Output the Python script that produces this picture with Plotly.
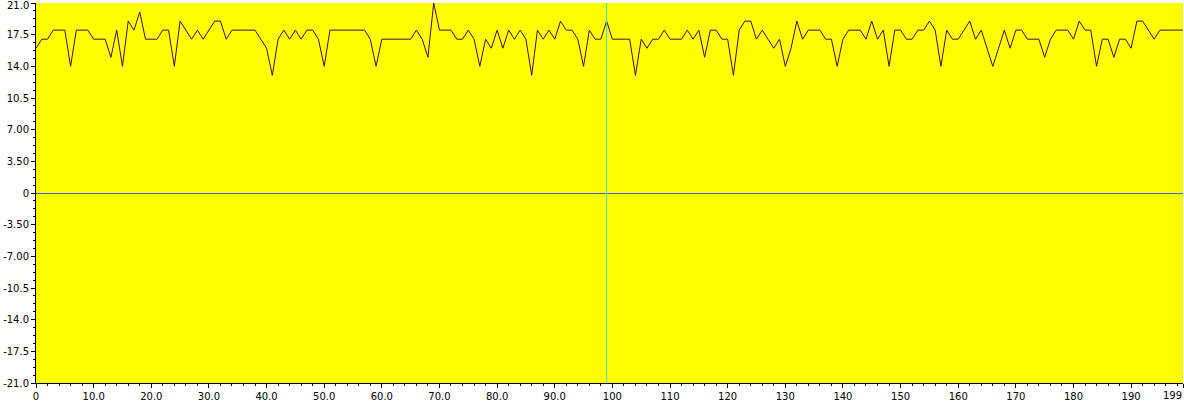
import plotly.graph_objects as go

# ---- data ----
sample_index = list(range(200))
signal_values = [
    16, 17, 17, 18, 18, 18, 14, 18, 18, 18,
    17, 17, 17, 15, 18, 14, 19, 18, 20, 17,
    17, 17, 18, 18, 14, 19, 18, 17, 18, 17,
    18, 19, 19, 17, 18, 18, 18, 18, 18, 17,
    16, 13, 17, 18, 17, 18, 17, 18, 18, 17,
    14, 18, 18, 18, 18, 18, 18, 18, 17, 14,
    17, 17, 17, 17, 17, 17, 18, 17, 15, 21,
    18, 18, 18, 17, 17, 18, 17, 14, 17, 16,
    18, 16, 18, 17, 18, 17, 13, 18, 17, 18,
    17, 19, 18, 18, 17, 14, 18, 17, 17, 19,
    17, 17, 17, 17, 13, 17, 16, 17, 17, 18,
    17, 17, 17, 18, 17, 18, 15, 18, 18, 17,
    17, 13, 18, 19, 19, 17, 18, 17, 16, 17,
    14, 16, 19, 17, 18, 18, 18, 17, 17, 14,
    17, 18, 18, 18, 17, 19, 17, 18, 14, 18,
    18, 17, 17, 18, 18, 19, 18, 14, 18, 17,
    17, 18, 19, 17, 18, 16, 14, 16, 18, 16,
    18, 18, 17, 17, 17, 15, 17, 18, 18, 18,
    17, 19, 18, 18, 14, 17, 17, 15, 17, 17,
    16, 19, 19, 18, 17, 18, 18, 18, 18, 18,
]
cursor_x = 99
baseline_y = 0

x_tick_vals = [0, 10, 20, 30, 40, 50, 60, 70, 80, 90, 100, 110, 120, 130, 140,
               150, 160, 170, 180, 190, 199]
x_tick_text = ["0", "10.0", "20.0", "30.0", "40.0", "50.0", "60.0", "70.0", "80.0",
               "90.0", "100", "110", "120", "130", "140", "150", "160", "170",
               "180", "190", "199"]
y_tick_vals = [21, 17.5, 14, 10.5, 7, 3.5, 0, -3.5, -7, -10.5, -14, -17.5, -21]
y_tick_text = ["21.0", "17.5", "14.0", "10.5", "7.00", "3.50", "0", "-3.50",
               "-7.00", "-10.5", "-14.0", "-17.5", "-21.0"]

# edge labels are drawn as annotations (shifted inward so they are not clipped)
x_axis_labels = [t if v != x_tick_vals[-1] else "" for v, t in zip(x_tick_vals, x_tick_text)]
y_axis_labels = [t if v != y_tick_vals[0] else "" for v, t in zip(y_tick_vals, y_tick_text)]

W, H = 1184, 408
M = dict(l=36, r=1, t=3, b=25)
y_min, y_max = -21, 21
one_px_y = (y_max - y_min) / (H - M["t"] - M["b"])   # one pixel in y units

fig = go.Figure()
fig.add_trace(go.Scatter(
    x=sample_index, y=signal_values, mode="lines",
    line=dict(color="#4A0A3A", width=1), hoverinfo="x+y", showlegend=False,
))

# crisp 1-px blue baseline at y = 0
fig.add_shape(type="rect", xref="paper", yref="y", x0=0, x1=1,
              y0=baseline_y - one_px_y, y1=baseline_y,
              fillcolor="#3A66D0", line=dict(width=0), layer="above")
# cyan cursor line
fig.add_shape(type="line", xref="x", yref="paper", x0=cursor_x, x1=cursor_x,
              y0=0, y1=1, line=dict(color="#40D8D0", width=1))

fig.add_annotation(x=x_tick_vals[-1], y=0, xref="x", yref="paper",
                   text=x_tick_text[-1], showarrow=False, xanchor="right",
                   yanchor="top", xshift=1, yshift=-5,
                   font=dict(family="DejaVu Sans", size=10, color="black"))
fig.add_annotation(x=0, y=y_tick_vals[0], xref="paper", yref="y",
                   text=y_tick_text[0], showarrow=False, xanchor="right",
                   yanchor="top", xshift=-5, yshift=5,
                   font=dict(family="DejaVu Sans", size=10, color="black"))

fig.update_layout(
    width=W, height=H,
    margin=dict(**M, autoexpand=False),
    paper_bgcolor="white",
    plot_bgcolor="#FFFF00",
    font=dict(family="DejaVu Sans", size=10, color="black"),
    showlegend=False,
)
fig.update_xaxes(
    range=[0, 199], tickmode="array", tickvals=x_tick_vals, ticktext=x_axis_labels,
    automargin=False, ticklabeloverflow="allow",
    showgrid=False, zeroline=False, showline=True, linecolor="black", linewidth=1,
    ticks="outside", ticklen=4, tickcolor="black", tickfont=dict(size=10),
    minor=dict(tick0=0, dtick=2, ticklen=2, tickcolor="black", ticks="outside",
               showgrid=False),
)
fig.update_yaxes(
    range=[y_min, y_max], tickmode="array", tickvals=y_tick_vals, ticktext=y_axis_labels,
    automargin=False, ticklabeloverflow="allow",
    showgrid=False, zeroline=False,
    showline=True, linecolor="black", linewidth=1,
    ticks="outside", ticklen=4, tickcolor="black", tickfont=dict(size=10),
    minor=dict(tick0=0, dtick=0.875, ticklen=2, tickcolor="black", ticks="outside",
               showgrid=False),
)

fig.write_html(
    "out.html",
    config={"displayModeBar": False},
    post_script="document.body.style.margin='0';document.body.style.overflow='hidden';",
)
